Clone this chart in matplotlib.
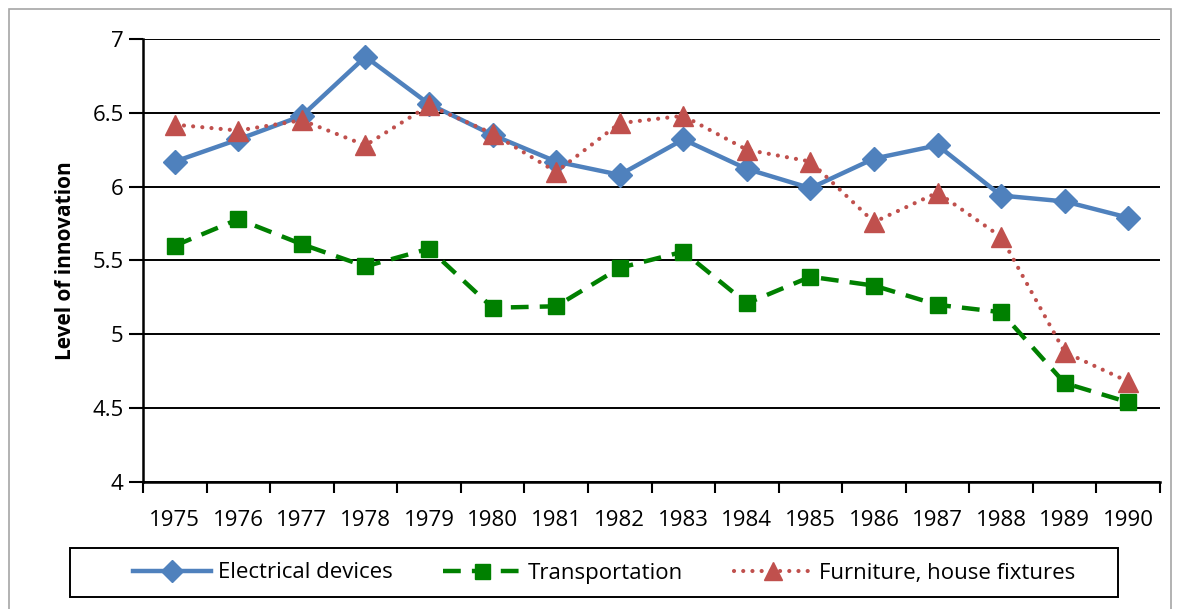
import numpy as np
import matplotlib.pyplot as plt
from matplotlib.patches import Rectangle

years = [str(y) for y in range(1975, 1991)]
electrical = [6.17, 6.32, 6.48, 6.88, 6.56, 6.35, 6.17, 6.08, 6.32, 6.12, 5.99, 6.19, 6.28, 5.94, 5.90, 5.79]
transport = [5.60, 5.78, 5.61, 5.46, 5.58, 5.18, 5.19, 5.45, 5.56, 5.21, 5.39, 5.33, 5.20, 5.15, 4.67, 4.54]
furniture = [6.42, 6.38, 6.45, 6.28, 6.55, 6.36, 6.10, 6.43, 6.48, 6.25, 6.17, 5.76, 5.96, 5.66, 4.88, 4.68]


def main() -> None:
    plt.rcParams['font.family'] = ['Open Sans', 'DejaVu Sans']
    W, H = 1180, 609
    fig = plt.figure(figsize=(W / 100, H / 100), dpi=100)
    ax = fig.add_axes([143 / W, 1 - 482 / H, (1160 - 143) / W, (482 - 39) / H])

    # outer chart border
    fig.patches.append(Rectangle((9 / W, -0.01), 1162 / W, 1 - 9 / H + 0.01,
                                 transform=fig.transFigure, fill=False,
                                 edgecolor='#a6a6a6', lw=1.2))
    # legend frame drawn by hand (Excel pads it unevenly)
    fig.patches.append(Rectangle((70 / W, 1 - 597 / H), (1118 - 70) / W, 49 / H,
                                 transform=fig.transFigure, fill=False,
                                 edgecolor='black', lw=1.4))

    x = np.arange(len(years))
    ax.plot(x, electrical, color='#4F81BD', lw=3.2, marker='D', ms=12,
            label='Electrical devices', zorder=4)
    ax.plot(x, transport, color='#008000', lw=3.2, ls=(0, (4, 2.5)), marker='s', ms=12,
            label='Transportation', zorder=3)
    ax.plot(x, furniture, color='#C0504D', lw=3, ls=(0, (0.01, 2.2)), dash_capstyle='round',
            marker='^', ms=14, label='Furniture, house fixtures', zorder=5)

    ax.set_xlim(-0.5, len(years) - 0.5)
    ax.set_ylim(4, 7)
    ax.set_yticks(np.arange(4, 7.01, 0.5))
    ax.set_yticklabels(['4', '4.5', '5', '5.5', '6', '6.5', '7'])
    ax.set_xticks(x)
    ax.set_xticklabels(years)
    ax.set_xticks(np.arange(-0.5, len(years)), minor=True)
    ax.tick_params(axis='x', which='major', length=0, pad=20, labelsize=16)
    ax.tick_params(axis='x', which='minor', length=8, width=1.5, direction='out')
    ax.tick_params(axis='y', length=10, width=1.5, direction='out', pad=4, labelsize=16)
    ax.grid(axis='y', color='black', lw=1.4)
    ax.set_axisbelow(True)
    for s in ['top', 'right']:
        ax.spines[s].set_visible(False)
    for s in ['left', 'bottom']:
        ax.spines[s].set_linewidth(1.8)
    ax.set_ylabel('Level of innovation', fontsize=15, fontweight='bold', labelpad=12)

    fig.legend(loc='center', bbox_to_anchor=(604 / W, 1 - 573 / H), ncol=3,
               fontsize=16, frameon=False, handlelength=3.5, handletextpad=0.3,
               columnspacing=2.3, borderpad=0.2, markerscale=0.9)

    fig.savefig('out.png', dpi=100)
    plt.close(fig)


if __name__ == '__main__':
    main()
